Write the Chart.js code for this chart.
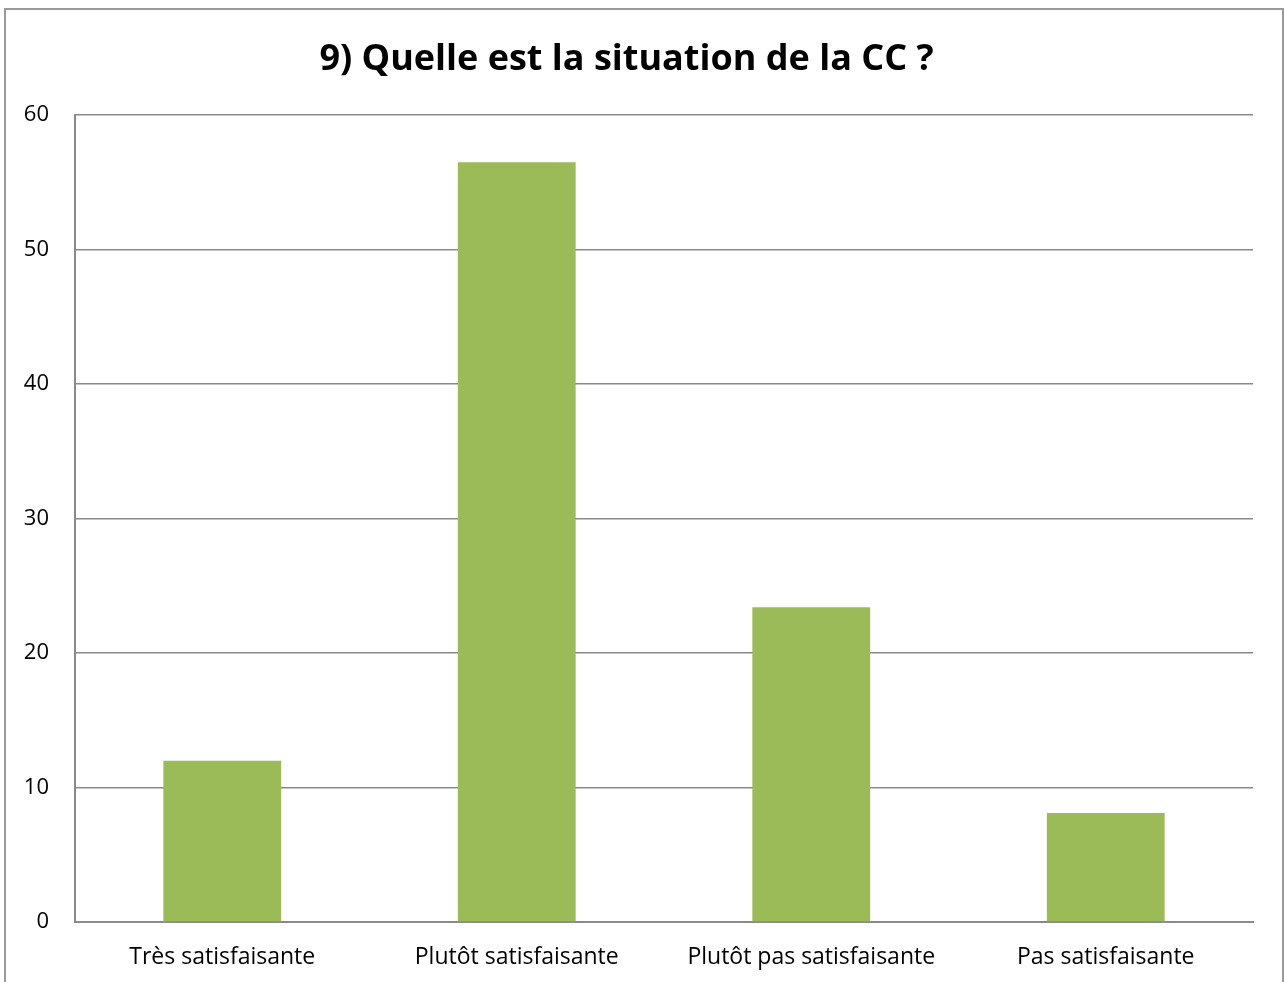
<!DOCTYPE html>
<html>
<head>
<meta charset="utf-8">
<script src="https://cdn.jsdelivr.net/npm/chart.js@4"></script>
<style>
  html, body { margin: 0; padding: 0; background: #fff; }
  #wrap { width: 1285px; height: 982px; }
</style>
</head>
<body>
<div id="wrap"><canvas id="cc"></canvas></div>
<script>
const chartTitle = '9) Quelle est la situation de la CC ?';
const categories = ['Très satisfaisante', 'Plutôt satisfaisante', 'Plutôt pas satisfaisante', 'Pas satisfaisante'];
const values = [12, 56.5, 23.4, 8.1];
const yTicks = [0, 10, 20, 30, 40, 50, 60];

const FONT = "'Open Sans', sans-serif";

/* outer frame (open at the bottom) */
const framePlugin = {
    id: 'frame',
    afterDraw(chart) {
        const ctx = chart.ctx;
        ctx.save();
        ctx.strokeStyle = '#9a9a9a';
        ctx.lineWidth = 2;
        ctx.beginPath();
        ctx.moveTo(5, 982);
        ctx.lineTo(5, 9);
        ctx.lineTo(1283, 9);
        ctx.lineTo(1283, 982);
        ctx.stroke();
        ctx.restore();
    }
};

new Chart(document.getElementById('cc'), {
    type: 'bar',
    data: {
        labels: categories,
        datasets: [{
            data: values,
            backgroundColor: '#9bbb59',
            barPercentage: 0.4,
            categoryPercentage: 1
        }]
    },
    options: {
        responsive: true,
        maintainAspectRatio: false,
        animation: false,
        layout: { padding: { left: 0, right: 32, top: 0, bottom: 0 } },
        plugins: {
            legend: { display: false },
            tooltip: { enabled: false },
            title: {
                display: true,
                text: chartTitle,
                color: '#000',
                font: { family: FONT, size: 36, weight: 'bold', lineHeight: 1.2 },
                padding: { top: 38, bottom: 34 }
            }
        },
        scales: {
            x: {
                grid: { display: false },
                border: { display: true, color: '#8a8a8a', width: 2 },
                ticks: { color: '#000', font: { family: FONT, size: 23 }, padding: 14, maxRotation: 0 },
                afterFit(scale) { scale.height = 60; }
            },
            y: {
                min: 0,
                max: 60,
                afterBuildTicks(scale) { scale.ticks = yTicks.map(v => ({ value: v })); },
                grid: { color: '#8a8a8a', lineWidth: 1.5, drawTicks: false },
                border: { display: true, color: '#8a8a8a', width: 2 },
                ticks: { color: '#000', font: { family: FONT, size: 22 }, padding: 26 },
                afterFit(scale) { scale.width = 75; }
            }
        }
    },
    plugins: [framePlugin]
});
</script>
</body>
</html>
